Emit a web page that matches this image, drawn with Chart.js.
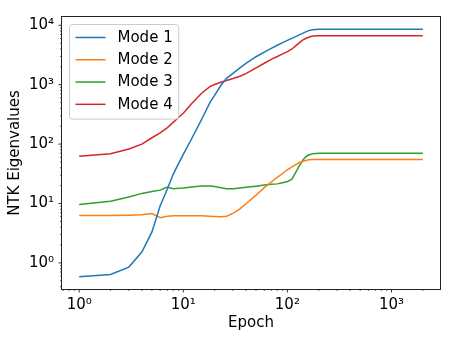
<!DOCTYPE html>
<html><head><meta charset="utf-8">
<style>html,body{margin:0;padding:0;background:#fff;overflow:hidden}</style>
<script src="https://cdn.jsdelivr.net/npm/chart.js@4/dist/chart.umd.min.js"></script>
</head><body>
<canvas id="c" width="449" height="339" style="display:block;width:449px;height:339px"></canvas>
<script>
// ---- data ----
const epochs = [1,2,3,4,5,6,7,8,9,10,12,15,18,20,23,26,30,35,40,50,60,70,80,90,100,110,120,130,140,150,160,175,200,300,500,1000,2000];
const mode1 = [0.587,0.64,0.85,1.52,3.33,9.2,17.2,31,47,67,122,260,500,660,980,1280,1550,1920,2280,2960,3530,4100,4620,5100,5570,6030,6460,6900,7300,7750,8150,8450,8550,8550,8550,8550,8550];
const mode2 = [6.28,6.3,6.35,6.45,6.76,5.76,6.1,6.2,6.22,6.25,6.25,6.2,6.1,6.05,5.98,6.1,6.8,8.1,9.9,13.8,18.5,23,27.5,32,37,41,45,48.5,51,53,54.5,55.3,55.3,55.3,55.3,55.3,55.3];
const mode3 = [9.6,10.9,12.9,14.8,15.9,16.8,19.0,17.8,18.0,18.3,19.0,19.8,19.8,19.3,18.4,17.8,17.8,18.3,18.8,19.6,20.4,21,21.4,22.3,23.5,25.5,33,43,53,61,65.5,69,70,70,70,70,70];
const mode4 = [62.5,69,83,100,128,155,188,232,280,330,480,720,930,1010,1100,1180,1270,1390,1540,1920,2300,2670,2990,3300,3600,3960,4500,5050,5620,6000,6300,6600,6670,6670,6670,6670,6670];
const seriesLabels = ['Mode 1','Mode 2','Mode 3','Mode 4'];
const seriesColors = ['#1f77b4','#ff7f0e','#2ca02c','#d62728'];
const xTitle = 'Epoch';
const yTitle = 'NTK Eigenvalues';
const tickBase = '10';

// ---- helpers ----
const SUP = {'-':'\u207B','0':'\u2070','1':'\u00B9','2':'\u00B2','3':'\u00B3','4':'\u2074','5':'\u2075','6':'\u2076','7':'\u2077','8':'\u2078','9':'\u2079'};
function pow10Exp(v){ const e = Math.round(Math.log10(v)); return Math.abs(v - Math.pow(10,e)) / Math.pow(10,e) < 1e-6 ? e : null; }
function tickLabel(v){ const e = pow10Exp(v); return e === null ? '' : tickBase + String(e).split('').map(c=>SUP[c]).join(''); }
function logTicks(min, max){
  const out = [];
  for (let e = Math.floor(Math.log10(min)); e <= Math.ceil(Math.log10(max)); e++) {
    for (let m = 1; m <= 9; m++) {
      const v = +(m * Math.pow(10, e)).toPrecision(6);
      if (v >= min && v <= max) out.push({value: v});
    }
  }
  return out;
}
function paddedRange(vals){
  const lo = Math.log10(Math.min(...vals)), hi = Math.log10(Math.max(...vals));
  const m = (hi - lo) * 0.05;
  return [Math.pow(10, lo - m), Math.pow(10, hi + m)];
}
const [xMin, xMax] = paddedRange(epochs);
const [yMin, yMax] = paddedRange([...mode1, ...mode2, ...mode3, ...mode4]);
const FONT = 'DejaVu Sans';

const frameAndTicks = {
  id: 'frameAndTicks',
  afterDraw(chart){
    const ctx = chart.ctx, a = chart.chartArea;
    ctx.save();
    ctx.strokeStyle = '#000';
    ['x','y'].forEach(id => {
      const s = chart.scales[id];
      s.ticks.forEach(t => {
        const p = s.getPixelForValue(t.value);
        const major = pow10Exp(t.value) !== null;
        const len = major ? 3.5 : 2;
        ctx.lineWidth = major ? 0.8 : 0.6;
        ctx.beginPath();
        if (id === 'x') { if (p < a.left - 0.5 || p > a.right + 0.5) return; ctx.moveTo(p, a.bottom); ctx.lineTo(p, a.bottom + len); }
        else { if (p < a.top - 0.5 || p > a.bottom + 0.5) return; ctx.moveTo(a.left, p); ctx.lineTo(a.left - len, p); }
        ctx.stroke();
      });
    });
    ctx.lineWidth = 1;
    ctx.strokeStyle = '#222';
    ctx.strokeRect(a.left - 0.5, a.top - 0.5, a.right - a.left + 1, a.bottom - a.top + 1);
    ctx.restore();
  }
};

const boxLegend = {
  id: 'boxLegend',
  afterDraw(chart){
    const ctx = chart.ctx, a = chart.chartArea;
    const fs = 15;
    ctx.save();
    ctx.font = fs + 'px "' + FONT + '"';
    const ds = chart.data.datasets;
    const maxW = Math.max(...ds.map(d => ctx.measureText(d.label).width));
    const x0 = a.left + 0.5 * fs, y0 = a.top + 0.5 * fs;
    const pad = 0.4 * fs, handle = 2 * fs, gap = 0.8 * fs, pitch = 1.485 * fs;
    const w = pad + handle + gap + maxW + pad;
    const h = pad * 2 + pitch * ds.length - 0.5 * fs + 1;
    ctx.beginPath();
    ctx.roundRect(x0, y0, w, h, 3);
    ctx.fillStyle = 'rgba(255,255,255,0.8)';
    ctx.fill();
    ctx.strokeStyle = '#cccccc';
    ctx.lineWidth = 1;
    ctx.stroke();
    ds.forEach((d, i) => {
      const cy = y0 + pad + 7 + i * pitch;
      ctx.strokeStyle = d.borderColor;
      ctx.lineWidth = 1.5;
      ctx.beginPath();
      ctx.moveTo(x0 + pad, cy);
      ctx.lineTo(x0 + pad + handle, cy);
      ctx.stroke();
      ctx.fillStyle = '#000';
      ctx.textBaseline = 'middle';
      ctx.textAlign = 'left';
      ctx.fillText(d.label, x0 + pad + handle + gap, cy + 0.5);
    });
    ctx.restore();
  }
};

const seriesValues = [mode1, mode2, mode3, mode4];
new Chart(document.getElementById('c'), {
  type: 'line',
  data: {
    datasets: seriesValues.map((vals, i) => ({
      label: seriesLabels[i],
      data: epochs.map((e, j) => ({x: e, y: vals[j]})),
      borderColor: seriesColors[i],
      backgroundColor: seriesColors[i],
      borderWidth: 1.5,
      pointRadius: 0,
      fill: false,
      tension: 0
    }))
  },
  options: {
    responsive: false,
    animation: false,
    devicePixelRatio: 1,
    layout: {padding: {left: 0, top: 7, right: 9, bottom: 0}},
    plugins: {legend: {display: false}, tooltip: {enabled: false}},
    scales: {
      x: {
        type: 'logarithmic', min: xMin, max: xMax,
        afterBuildTicks: s => { s.ticks = logTicks(s.min, s.max); },
        afterFit: s => { s.height = 50; },
        grid: {display: false, drawTicks: false},
        border: {display: false},
        ticks: {autoSkip: false, maxRotation: 0, padding: 7, color: '#000', font: {family: FONT, size: 15}, callback: v => tickLabel(v)},
        title: {display: true, text: xTitle, color: '#000', font: {family: FONT, size: 15}, padding: {top: 0, bottom: 7}}
      },
      y: {
        type: 'logarithmic', min: yMin, max: yMax,
        afterBuildTicks: s => { s.ticks = logTicks(s.min, s.max); },
        afterFit: s => { s.width = 62; },
        grid: {display: false, drawTicks: false},
        border: {display: false},
        ticks: {autoSkip: false, padding: 8, color: '#000', font: {family: FONT, size: 15}, callback: v => tickLabel(v)},
        title: {display: true, text: yTitle, color: '#000', font: {family: FONT, size: 15}, padding: {top: 6, bottom: 0}}
      }
    }
  },
  plugins: [frameAndTicks, boxLegend]
});
</script>
</body></html>
